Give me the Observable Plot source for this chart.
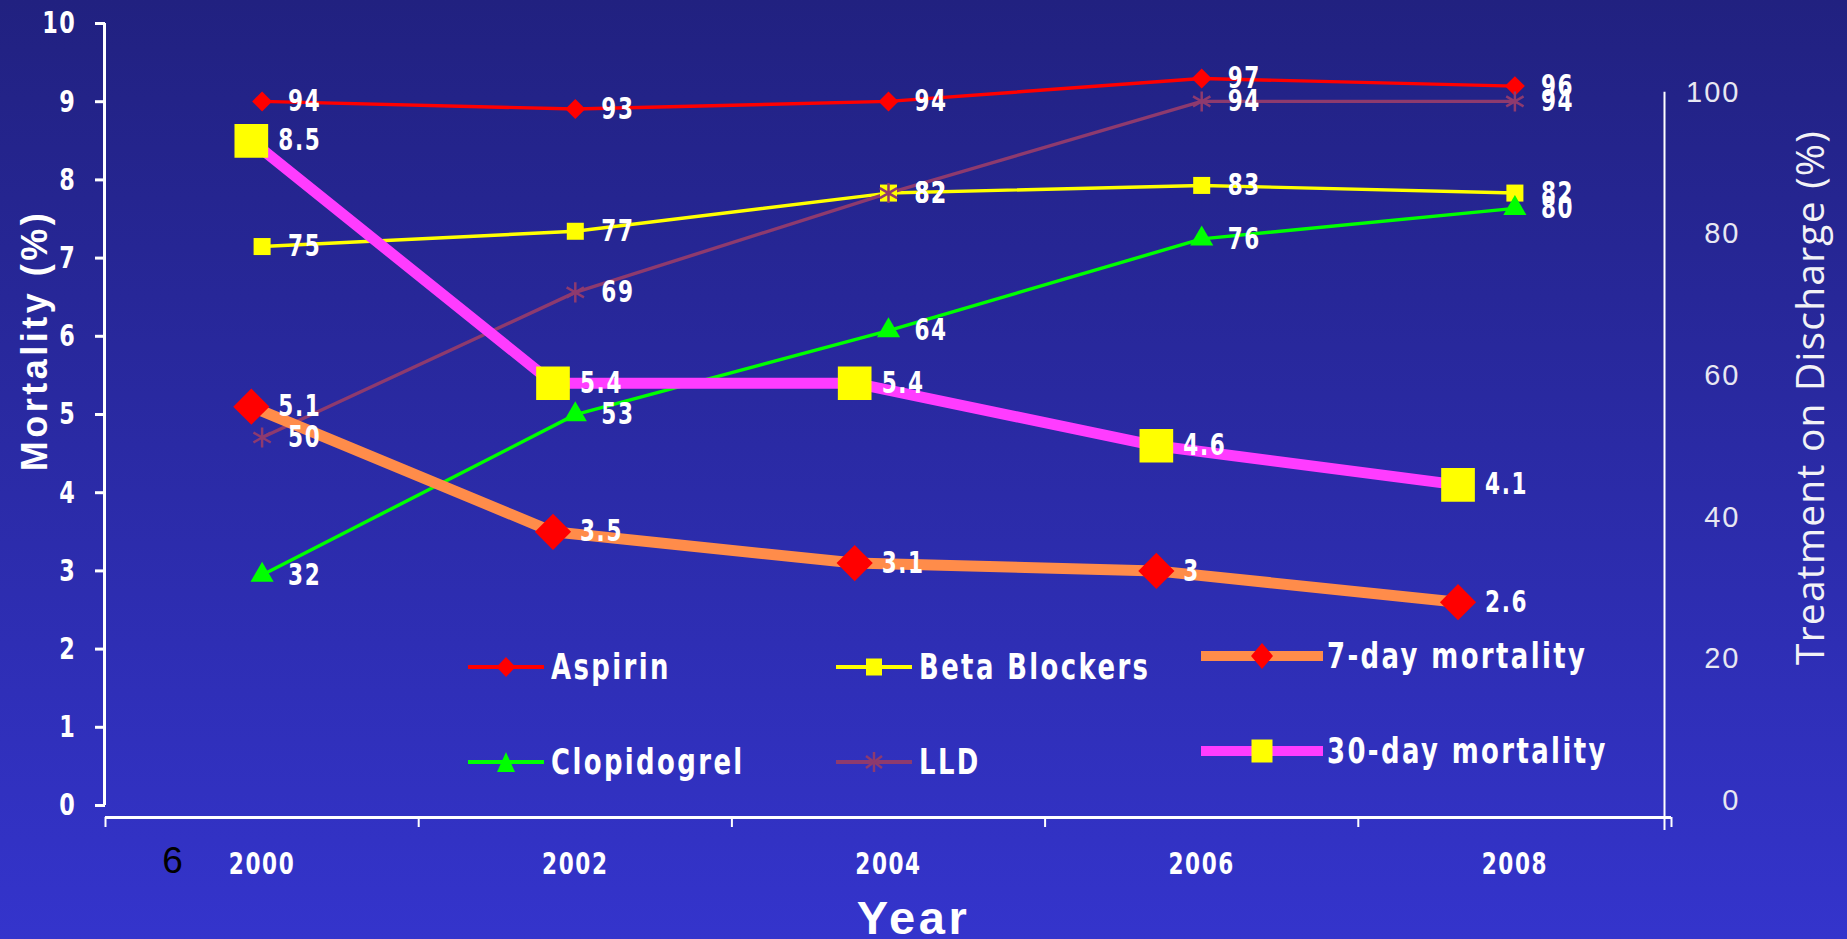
<!DOCTYPE html>
<html><head><meta charset="utf-8">
<script src="https://cdn.jsdelivr.net/npm/d3@7"></script>
<script src="https://cdn.jsdelivr.net/npm/@observablehq/plot@0.6"></script>
<style>
html,body{margin:0;padding:0;background:#2a2aa6;}
#wrap{position:relative;width:1847px;height:939px;overflow:hidden;background:linear-gradient(to bottom,#212180 0%,#3434cc 100%);}
#chart{position:absolute;left:0;top:0;}
#legend{position:absolute;left:468px;top:647px;display:grid;grid-template-columns:368px 365px auto;grid-auto-rows:95px;
  font-family:'Liberation Sans Narrow','Arial Narrow','DejaVu Sans Condensed',sans-serif;font-weight:bold;font-size:36px;letter-spacing:3px;color:#fff;}
.item{display:flex;align-items:center;height:40px;line-height:40px;white-space:nowrap;}
.item svg{display:block;overflow:visible;flex:none;}
.item span{display:inline-block;transform:scaleX(0.8);transform-origin:left center;}
.item.mort{transform:translateY(-11px);}
</style></head>
<body><div id="wrap"><div id="chart"></div><div id="legend"></div></div>
<script>
// ---------- data ----------
const years = ["2000", "2002", "2004", "2006", "2008"];
const aspirin = [94, 93, 94, 97, 96];
const betaBlockers = [75, 77, 82, 83, 82];
const clopidogrel = [32, 53, 64, 76, 80];
const lld = [50, 69, 82, 94, 94];
const mortality7 = [5.1, 3.5, 3.1, 3, 2.6];
const mortality30 = [8.5, 5.4, 5.4, 4.6, 4.1];
const leftTicks = [0, 1, 2, 3, 4, 5, 6, 7, 8, 9, 10];
const rightTicks = [0, 20, 40, 60, 80, 100];

// ---------- styling ----------
const NARROW = "'Liberation Sans Narrow','Arial Narrow','DejaVu Sans Condensed',sans-serif";
const SANS = "'Liberation Sans',Arial,sans-serif";
const treatmentSeries = [
  {name: "Aspirin", values: aspirin, color: "#ff0000", symbol: "diamond2", r: 9},
  {name: "Beta Blockers", values: betaBlockers, color: "#ffff00", symbol: "square", r: 9.6},
  {name: "Clopidogrel", values: clopidogrel, color: "#00ff00", symbol: "triangle", r: 8.6},
  {name: "LLD", values: lld, color: "#8e3a6e", symbol: "asterisk", r: 9.5}
];
const mortalitySeries = [
  {name: "7-day mortality", values: mortality7, color: "#ff8c4a", marker: "#ff0000", symbol: "diamond2", r: 16.3},
  {name: "30-day mortality", values: mortality30, color: "#ff3cff", marker: "#ffff00", symbol: "square", r: 19}
];

// secondary axes expressed in units of the primary (left) y axis and category slots
const treatToLeft = d3.scaleLinear().domain([0, 100]).range([-0.179, 9.59]);
const rightLabelPos = d3.scaleLinear().domain([0, 100]).range([0.06, 9.12]);
const slotX = i => i + 0.5;
const mortSlotX = d3.scaleLinear().domain([0, 5]).range([-0.016, 4.8]);

const tRows = treatmentSeries.flatMap(s => s.values.map((v, i) => ({series: s.name, i, value: v})));
const mRows = mortalitySeries.flatMap(s => s.values.map((v, i) => ({series: s.name, i, value: v})));

const marks = [];
// left axis
marks.push(Plot.axisY({ticks: leftTicks, tickSize: 10, tickPadding: 19, strokeWidth: 3, fontSize: 31, fontWeight: "bold", fontFamily: NARROW, label: null}));
marks.push(Plot.ruleX([0], {y1: 0, y2: 10, stroke: "white", strokeWidth: 3, dx: -1}));
// bottom axis
marks.push(Plot.ruleY([0], {x1: 0, x2: 5, dy: 12, stroke: "white", strokeWidth: 3}));
marks.push(Plot.axisX({ticks: [0, 1, 2, 3, 4, 5], tickSize: 10, strokeWidth: 2, tickFormat: () => "", label: null}));
marks.push(Plot.text(years, {x: (d, i) => slotX(i), text: d => d, frameAnchor: "bottom", textAnchor: "middle", dy: 56, fontSize: 30, fontWeight: "bold", fontFamily: NARROW, fill: "white"}));
marks.push(Plot.text(["6"], {x: 0, text: d => d, frameAnchor: "bottom", textAnchor: "middle", dx: 68, dy: 55, fontSize: 37, fontWeight: "normal", fontFamily: SANS, fill: "black"}));
// right axis
marks.push(Plot.ruleX([5], {y1: rightLabelPos(100), y2: 0, dx: -7, insetBottom: -25, stroke: "white", strokeWidth: 2}));
marks.push(Plot.text(rightTicks, {y: d => rightLabelPos(d), text: d => String(d), frameAnchor: "right", dx: 69, textAnchor: "end", fontSize: 29, fontWeight: "normal", fontFamily: SANS, fill: "#e8e8f2"}));
// axis titles
marks.push(Plot.text(["Mortality (%)"], {text: d => d, frameAnchor: "left", textAnchor: "middle", dx: -70, dy: -80, rotate: -90, fontSize: 36, fontWeight: "bold", fontFamily: SANS, fill: "white"}));
marks.push(Plot.text(["Treatment on Discharge (%)"], {text: d => d, frameAnchor: "right", textAnchor: "middle", dx: 140, dy: -23, rotate: -90, fontSize: 39, fontWeight: "normal", fontFamily: "'Open Sans',sans-serif", fill: "#f2f2f6"}));
marks.push(Plot.text(["Year"], {text: d => d, frameAnchor: "bottom", textAnchor: "middle", dx: 25, dy: 116, fontSize: 47, fontWeight: "bold", fontFamily: SANS, fill: "white"}));

// treatment series (right axis)
for (const s of treatmentSeries) {
  const rows = tRows.filter(d => d.series === s.name);
  marks.push(Plot.line(rows, {x: d => slotX(d.i), y: d => treatToLeft(d.value), stroke: s.color, strokeWidth: 3.4}));
}
for (const s of treatmentSeries) {
  const rows = tRows.filter(d => d.series === s.name);
  const isStroke = s.symbol === "asterisk";
  marks.push(Plot.dot(rows, {x: d => slotX(d.i), y: d => treatToLeft(d.value), symbol: s.symbol, r: s.r,
    fill: isStroke ? "none" : s.color, stroke: isStroke ? s.color : "none", strokeWidth: isStroke ? 2.5 : 0}));
}
// mortality series (left axis, secondary category axis)
for (const s of mortalitySeries) {
  const rows = mRows.filter(d => d.series === s.name);
  marks.push(Plot.line(rows, {x: d => mortSlotX(d.i + 0.5), y: "value", stroke: s.color, strokeWidth: 11}));
  marks.push(Plot.dot(rows, {x: d => mortSlotX(d.i + 0.5), y: "value", symbol: s.symbol, r: s.r, fill: s.marker, stroke: "none"}));
}
// data labels
marks.push(Plot.text(tRows, {x: d => slotX(d.i), y: d => treatToLeft(d.value), text: d => String(d.value), dx: 26, textAnchor: "start", fontSize: 30, fontWeight: "bold", fontFamily: NARROW, fill: "white"}));
marks.push(Plot.text(mRows, {x: d => mortSlotX(d.i + 0.5), y: "value", text: d => String(d.value), dx: 27, textAnchor: "start", fontSize: 30, fontWeight: "bold", fontFamily: NARROW, fill: "white"}));

const chart = Plot.plot({
  width: 1847, height: 939,
  marginLeft: 105, marginRight: 176, marginTop: 23, marginBottom: 122,
  x: {type: "linear", domain: [0, 5]},
  y: {type: "linear", domain: [0, 10], range: [805, 23]},
  style: {background: "transparent", color: "white", overflow: "visible", letterSpacing: "2px", fontFamily: NARROW},
  marks
});
const root = d3.select(chart);
root.selectAll("g[font-family*='Open Sans']").style("letter-spacing", "1.2px");
root.selectAll("g").filter(function() { const f = this.getAttribute("font-family") || ""; return f.startsWith("'Liberation Sans',"); })
  .filter(function() { return /Mortality|Year/.test(this.textContent); })
  .style("letter-spacing", "3.5px");
// narrow-style text: horizontally condensed glyphs
root.selectAll("g").filter(function() { return (this.getAttribute("font-family") || "").includes("Narrow"); })
  .selectAll("text").each(function() {
    const t = this.getAttribute("transform") || "";
    this.setAttribute("transform", t + " scale(0.8,1)");
  });
document.getElementById("chart").appendChild(chart);

// ---------- legend ----------
const legendItems = [
  {name: "Aspirin", line: "#ff0000", lw: 4, w: 76, shape: "diamond", fill: "#ff0000", sw: 19, sh: 20},
  {name: "Beta Blockers", line: "#ffff00", lw: 4, w: 76, shape: "square", fill: "#ffff00", sw: 16, sh: 17},
  {name: "7-day mortality", line: "#ff8c4a", lw: 10, w: 122, shape: "diamond", fill: "#ff0000", sw: 22, sh: 26, mort: true},
  {name: "Clopidogrel", line: "#00ff00", lw: 4, w: 76, shape: "triangle", fill: "#00ff00", sw: 18, sh: 20},
  {name: "LLD", line: "#8e3a6e", lw: 4, w: 76, shape: "asterisk", fill: "#8e3a6e", sw: 20, sh: 20},
  {name: "30-day mortality", line: "#ff3cff", lw: 10, w: 122, shape: "square", fill: "#ffff00", sw: 21, sh: 23, mort: true}
];
const legend = d3.select("#legend");
for (const it of legendItems) {
  const div = legend.append("div").attr("class", "item" + (it.mort ? " mort" : ""));
  const H = 40, cx = it.w / 2, cy = H / 2, hw = it.sw / 2, hh = it.sh / 2;
  const svg = div.append("svg").attr("width", it.w).attr("height", H);
  svg.append("line").attr("x1", 0).attr("x2", it.w).attr("y1", cy).attr("y2", cy).attr("stroke", it.line).attr("stroke-width", it.lw);
  if (it.shape === "diamond") {
    svg.append("polygon").attr("points", `${cx},${cy - hh} ${cx + hw},${cy} ${cx},${cy + hh} ${cx - hw},${cy}`).attr("fill", it.fill);
  } else if (it.shape === "square") {
    svg.append("rect").attr("x", cx - hw).attr("y", cy - hh).attr("width", it.sw).attr("height", it.sh).attr("fill", it.fill);
  } else if (it.shape === "triangle") {
    svg.append("polygon").attr("points", `${cx},${cy - hh} ${cx + hw},${cy + hh} ${cx - hw},${cy + hh}`).attr("fill", it.fill);
  } else {
    const g = svg.append("g").attr("stroke", it.fill).attr("stroke-width", 2.5);
    g.append("line").attr("x1", cx).attr("x2", cx).attr("y1", cy - hh).attr("y2", cy + hh);
    g.append("line").attr("x1", cx - hw * 0.8).attr("x2", cx + hw * 0.8).attr("y1", cy - hh * 0.6).attr("y2", cy + hh * 0.6);
    g.append("line").attr("x1", cx - hw * 0.8).attr("x2", cx + hw * 0.8).attr("y1", cy + hh * 0.6).attr("y2", cy - hh * 0.6);
  }
  div.append("span").style("margin-left", (it.mort ? 4 : 7) + "px").text(it.name);
}
</script></body></html>
